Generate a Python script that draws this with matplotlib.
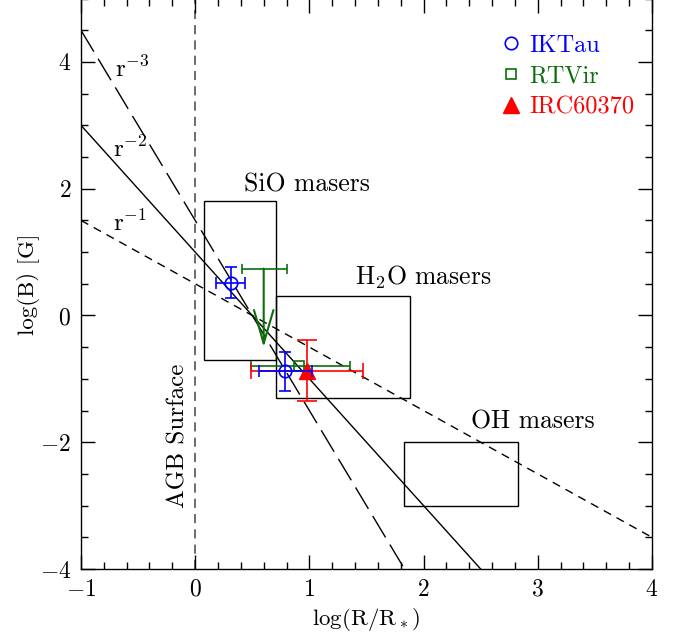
import numpy as np
import matplotlib
matplotlib.use("Agg")
import matplotlib.pyplot as plt
from matplotlib.ticker import MultipleLocator

plt.rcParams['font.family'] = ['cmr10', 'DejaVu Serif']
plt.rcParams['mathtext.fontset'] = 'cm'
plt.rcParams['axes.formatter.use_mathtext'] = True

# power-law field models: log B = b0 - n * log R
law_names = ['r$^{-1}$', 'r$^{-2}$', 'r$^{-3}$']
law_index = [1, 2, 3]
law_b0 = [0.5, 1.0, 1.5]

# maser regions (log R range, log B range)
region_names = ['SiO masers', 'H$_2$O masers', 'OH masers']
region_x = [(0.08, 0.71), (0.71, 1.88), (1.83, 2.83)]
region_y = [(-0.7, 1.8), (-1.3, 0.3), (-3.0, -2.0)]

# IK Tau measurements
iktau_x = [0.31, 0.79]
iktau_y = [0.52, -0.88]
iktau_xerr = [0.13, 0.23]
iktau_yerr = [0.25, 0.31]

# RT Vir: upper limit + measurement
rtvir_lim_x = 0.60
rtvir_lim_y = 0.74
rtvir_lim_xerr = [[0.19], [0.20]]
rtvir_lim_tip = -0.50
rtvir_x = 0.91
rtvir_y = -0.80
rtvir_xerr = [[0.42], [0.45]]

# IRC+60370
irc_x = 0.98
irc_y = -0.87
irc_xerr = 0.49
irc_yerr = 0.48

fig = plt.figure(figsize=(6.85, 6.41), dpi=100)
ax = fig.add_axes([0.1182, 0.1123, 0.8336, 0.8900])
ax.set_xlim(-1, 4)
ax.set_ylim(-4, 5)

# field laws
xx = np.array([-1.0, 4.0])
styles = [(0, (6, 4.5)), '-', (0, (18, 6))]
for name, n, b0, ls in zip(law_names, law_index, law_b0, styles):
    ax.plot(xx, b0 - n * xx, color='black', lw=1.0, ls=ls, zorder=2)

law_pos = [(-0.57, 1.45), (-0.57, 2.62), (-0.55, 3.88)]
for name, (lx, ly) in zip(law_names, law_pos):
    ax.text(lx, ly, name, fontsize=18, ha='center', va='center')

# stellar surface
ax.axvline(0, color='#444444', lw=1.1, ls=(0, (6, 4)), zorder=1)
ax.text(-0.15, -1.9, 'AGB Surface', rotation=90, fontsize=18,
        ha='center', va='center')

# maser regions
label_pos = [(0.98, 2.06), (2.0, 0.6), (2.96, -1.67)]
for name, (x0, x1), (y0, y1), (lx, ly) in zip(region_names, region_x,
                                               region_y, label_pos):
    ax.add_patch(plt.Rectangle((x0, y0), x1 - x0, y1 - y0, fill=False,
                               edgecolor='black', lw=1.0, zorder=2))
    ax.text(lx, ly, name, fontsize=18.5, ha='center', va='center')

# data
green = '#0a6e0a'
ax.errorbar(rtvir_lim_x, rtvir_lim_y, xerr=rtvir_lim_xerr, fmt='none',
            ecolor=green, elinewidth=1.2, capsize=3.5, capthick=1.2, zorder=4)
ax.annotate('', xy=(rtvir_lim_x, rtvir_lim_tip),
            xytext=(rtvir_lim_x, rtvir_lim_y),
            arrowprops=dict(arrowstyle='->,head_length=2.4,head_width=0.7',
                            color=green, lw=1.5, mutation_scale=10,
                            shrinkA=0, shrinkB=0), zorder=4)
ax.errorbar(rtvir_x, rtvir_y, xerr=rtvir_xerr, fmt='none', ecolor=green,
            elinewidth=1.2, capsize=3.5, capthick=1.2, zorder=4)
ax.plot(rtvir_x, rtvir_y, ls='none', marker='s', ms=7.5, mfc='none',
        mec=green, mew=1.2, zorder=5)

ax.errorbar(irc_x, irc_y, yerr=irc_yerr, fmt='none', ecolor='red',
            elinewidth=1.2, capsize=7.5, capthick=1.2, zorder=4)
ax.errorbar(irc_x, irc_y, xerr=irc_xerr, fmt='none', ecolor='red',
            elinewidth=1.2, capsize=5.5, capthick=1.2, zorder=4)
ax.plot(irc_x, irc_y, ls='none', marker='^', ms=12, color='red', zorder=5)

ax.errorbar(iktau_x, iktau_y, xerr=iktau_xerr, yerr=iktau_yerr, fmt='none',
            ecolor='blue', elinewidth=1.2, capsize=4.3, capthick=1.2, zorder=5)
ax.plot(iktau_x, iktau_y, ls='none', marker='o', ms=9, mfc='none',
        mec='blue', mew=1.2, zorder=6)

# legend proxies
h1, = ax.plot([], [], ls='none', marker='o', ms=9, mfc='none', mec='blue',
              mew=1.2, label='IKTau')
h2, = ax.plot([], [], ls='none', marker='s', ms=7.5, mfc='none', mec=green,
              mew=1.2, label='RTVir')
h3, = ax.plot([], [], ls='none', marker='^', ms=12, mfc='red', mec='red',
              label='IRC60370')
ax.legend(handles=[h1, h2, h3], loc='upper left',
          bbox_to_anchor=(0.736, 0.937), frameon=False, fontsize=17.5,
          labelcolor='markeredgecolor', handlelength=0.8, handletextpad=0.35,
          labelspacing=0.36, borderpad=0.0, borderaxespad=0.0)

ax.xaxis.set_major_locator(MultipleLocator(1))
ax.xaxis.set_minor_locator(MultipleLocator(0.2))
ax.yaxis.set_major_locator(MultipleLocator(2))
ax.yaxis.set_minor_locator(MultipleLocator(0.5))
ax.tick_params(which='both', direction='in', top=True, right=True,
               labelsize=17, width=1.0)
ax.tick_params(which='major', length=10, pad=7)
ax.tick_params(which='minor', length=5)
for s in ax.spines.values():
    s.set_linewidth(1.0)

ax.set_xlabel('log(R/R$_*$)', fontsize=16.5, labelpad=4)
ax.set_ylabel('log(B) [G]', fontsize=16.5, labelpad=0)

fig.savefig('out.png', dpi=100)
